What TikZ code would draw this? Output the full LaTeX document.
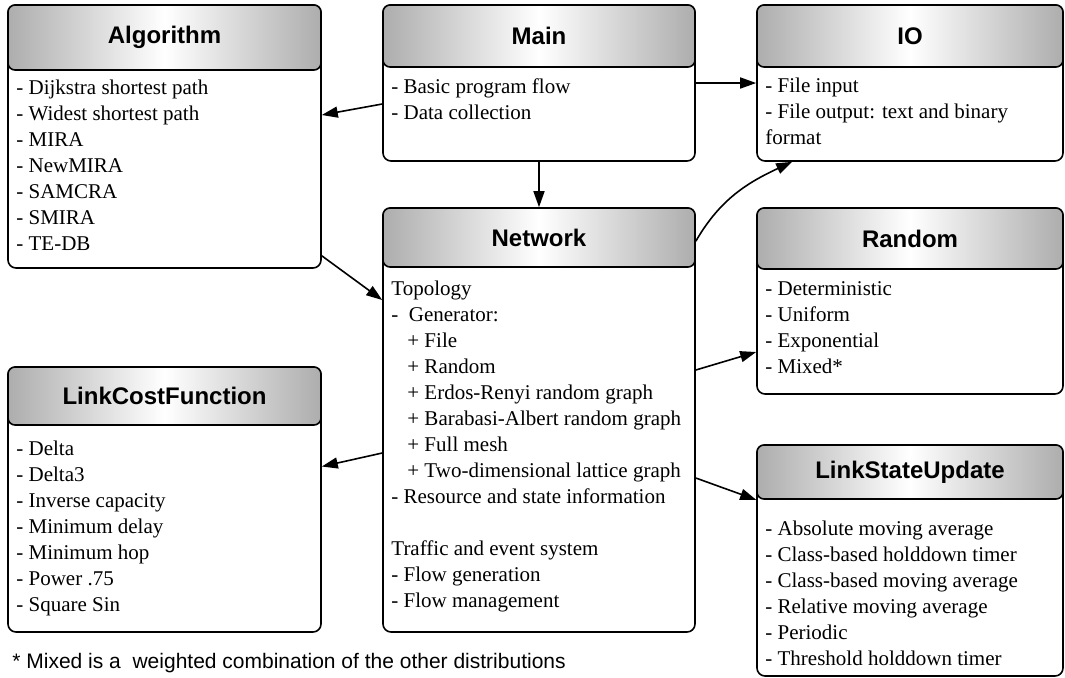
\documentclass[tikz,border=0pt]{standalone}
\usepackage{fontspec}
\setmainfont{Liberation Serif}
\setsansfont{Liberation Sans}
\usetikzlibrary{arrows.meta,fit,calc}
\definecolor{headgray}{HTML}{ADADAD}
\begin{document}
\begin{tikzpicture}[x=0.5pt,y=-0.5pt,
    box/.style={draw,line width=0.8pt,rounded corners=4pt,inner sep=0pt,fill=white},
    head/.style={draw,line width=0.8pt,rounded corners=3.5pt,inner sep=0pt,
      left color=headgray,right color=headgray,middle color=white},
    title/.style={inner sep=0pt,font=\sffamily\bfseries\fontsize{12}{14}\selectfont},
    body/.style={anchor=north west,align=left,inner sep=0pt,font=\fontsize{10.5}{13}\selectfont},
    arr/.style={-{Triangle[length=8pt,width=5.5pt]},line width=0.8pt}]
  \useasboundingbox (0,0) rectangle (1065,677);
  \node[box,fit={(8,5) (321,268)}] (alg) {};
  \node[head,fit={(8,5) (321,70)}] (alghead) {};
  \node[title] at (alghead.center) {Algorithm};
  \node[body] (algtext) at (16,80) {- Dijkstra shortest path\\- Widest shortest path\\- MIRA\\- NewMIRA\\- SAMCRA\\- SMIRA\\- TE-DB};
  \node[box,fit={(383,5) (695,161)}] (main) {};
  \node[head,fit={(383,5) (695,67)}] (mainhead) {};
  \node[title] at (mainhead.center) {Main};
  \node[body] (maintext) at (391,78) {- Basic program flow\\- Data collection};
  \node[box,fit={(757,5) (1063,161)}] (io) {};
  \node[head,fit={(757,5) (1063,67)}] (iohead) {};
  \node[title] at (iohead.center) {IO};
  \node[body] (iotext) at (765,78) {- File input\\- File output: text and binary\\format};
  \node[box,fit={(383,208) (695,632)}] (net) {};
  \node[head,fit={(383,208) (695,267)}] (nethead) {};
  \node[title] at (nethead.center) {Network};
  \node[body] (nettext) at (391,281) {Topology\\-\ \ Generator:\\
    \hspace*{8pt}+ File\\\hspace*{8pt}+ Random\\\hspace*{8pt}+ Erdos-Renyi random graph\\
    \hspace*{8pt}+ Barabasi-Albert random graph\\\hspace*{8pt}+ Full mesh\\
    \hspace*{8pt}+ Two-dimensional lattice graph\\- Resource and state information\\[13pt]
    Traffic and event system\\- Flow generation\\- Flow management};
  \node[box,fit={(757,208) (1063,394)}] (rnd) {};
  \node[head,fit={(757,208) (1063,269)}] (rndhead) {};
  \node[title] at (rndhead.center) {Random};
  \node[body] (rndtext) at (765,281) {- Deterministic\\- Uniform\\- Exponential\\- Mixed*};
  \node[box,fit={(8,367) (321,632)}] (lcf) {};
  \node[head,fit={(8,367) (321,425)}] (lcfhead) {};
  \node[title] at (lcfhead.center) {LinkCostFunction};
  \node[body] (lcftext) at (16,441) {- Delta\\- Delta3\\- Inverse capacity\\- Minimum delay\\- Minimum hop\\- Power .75\\- Square Sin};
  \node[box,fit={(757,445) (1063,676)}] (lsu) {};
  \node[head,fit={(757,445) (1063,499)}] (lsuhead) {};
  \node[title] at (lsuhead.center) {LinkStateUpdate};
  \node[body] (lsutext) at (765,521) {- Absolute moving average\\- Class-based holddown timer\\- Class-based moving average\\- Relative moving average\\- Periodic\\- Threshold holddown timer};
  \node[anchor=west,inner sep=0pt,font=\sffamily\fontsize{10.5}{13}\selectfont] (note) at (12,663)
    {* Mixed is a\ \ weighted combination of the other distributions};
  \draw[arr] ($(main.west)+(0,21)$) -- ($(alg.east)+(0,-21.5)$);
  \draw[arr] (main.east) -- (io.west);
  \draw[arr] (main.south) -- (net.north);
  \draw[arr] ($(alg.south east)+(0,-13)$) -- ($(net.west)+(0,-120)$);
  \draw[arr] ($(net.north east)+(0,34)$) to[out=60,in=205] ($(io.south west)+(36,0)$);
  \draw[arr] ($(net.east)+(0,-50)$) -- ($(rnd.west)+(0,51)$);
  \draw[arr] ($(net.west)+(0,33)$) -- ($(lcf.east)+(0,-33)$);
  \draw[arr] ($(net.east)+(0,58)$) -- (lsuhead.south west);
\end{tikzpicture}
\end{document}
